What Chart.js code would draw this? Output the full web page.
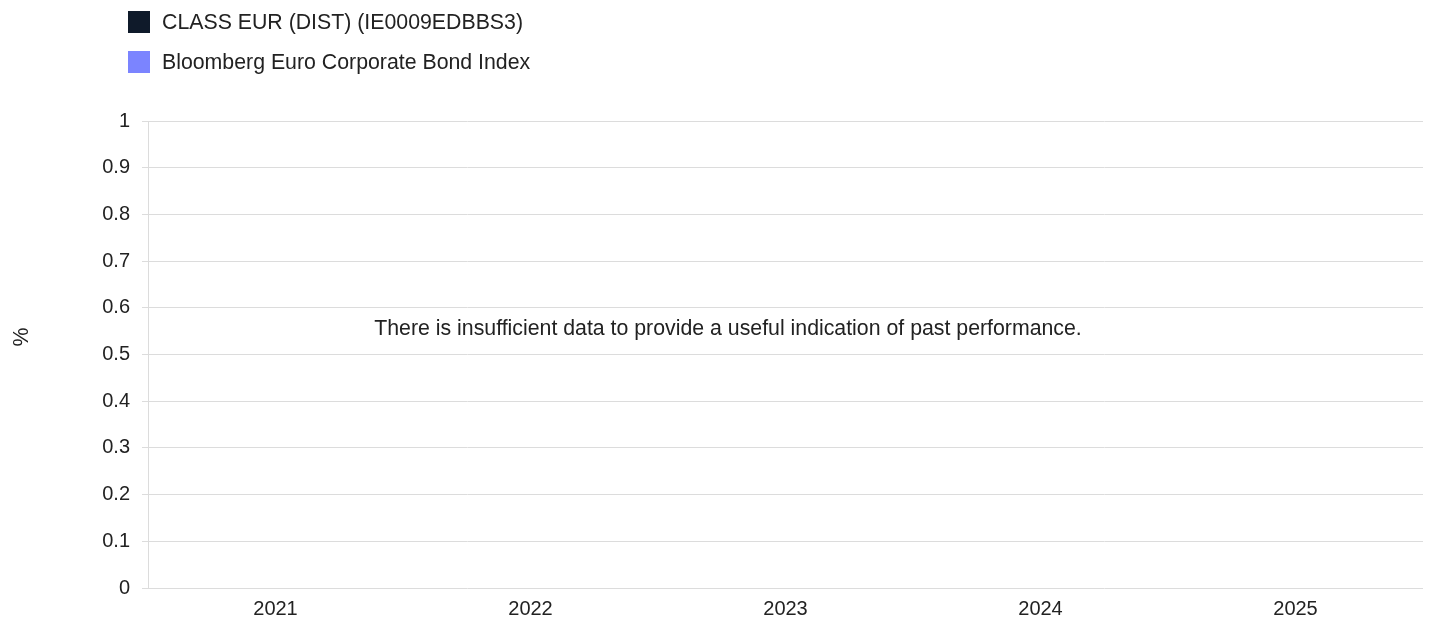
<!DOCTYPE html>
<html>
<head>
<meta charset="utf-8">
<script src="https://cdn.jsdelivr.net/npm/chart.js@4"></script>
<style>
  html, body { margin: 0; padding: 0; background: #fff; }
  #wrap { position: relative; width: 1431px; height: 625px; }
  #legend { position: absolute; left: 128px; top: 11px; font: 21.3px "Liberation Sans", Arial, sans-serif; color: #222; }
  #legend div { display: flex; align-items: center; height: 22px; margin-bottom: 18px; }
  #legend span.box { display: inline-block; width: 22px; height: 22px; margin-right: 12px; }
</style>
</head>
<body>
<div id="wrap">
  <canvas id="myChart" width="1431" height="625"></canvas>
  <div id="legend"></div>
</div>
<script>
document.addEventListener('DOMContentLoaded', function () {

  var ctx = document.getElementById('myChart').getContext('2d');

  // Années
  var years = ['2021', '2022', '2023', '2024', '2025'];
  // Pas de données disponibles
  var fundValues = [null, null, null, null, null];
  var indexValues = [null, null, null, null, null];
  var yTicks = [0, 0.1, 0.2, 0.3, 0.4, 0.5, 0.6, 0.7, 0.8, 0.9, 1];

  var fontFamily = '"Liberation Sans", Arial, sans-serif';
  var message = 'There is insufficient data to provide a useful indication of past performance.';

  // Texte au centre + titre de l'axe
  var textPlugin = {
    id: 'textPlugin',
    afterDraw: function (chart) {
      var c = chart.ctx;
      c.save();
      c.fillStyle = '#222';
      c.font = '21.3px ' + fontFamily;
      c.textAlign = 'center';
      c.textBaseline = 'middle';
      c.fillText(message, 728, 329);
      c.translate(22, 337);
      c.rotate(-Math.PI / 2);
      c.fillText('%', 0, 0);
      c.restore();
    }
  };

  var config = {
    type: 'bar',
    data: {
      labels: years,
      datasets: [{
        label: 'CLASS EUR (DIST) (IE0009EDBBS3)',
        data: fundValues,
        backgroundColor: '#0f1a2a'
      }, {
        label: 'Bloomberg Euro Corporate Bond Index',
        data: indexValues,
        backgroundColor: '#7b84ff'
      }]
    },
    options: {
      responsive: false,
      animation: false,
      layout: { padding: { top: 121, right: 8, bottom: 0, left: 0 } },
      plugins: {
        legend: { display: false },
        tooltip: { enabled: false }
      },
      scales: {
        x: {
          grid: { display: false },
          border: { display: false },
          afterFit: function (scale) { scale.height = 37; },
          ticks: { color: '#222', font: { size: 20, family: fontFamily }, padding: 1 }
        },
        y: {
          min: 0,
          max: 1,
          afterBuildTicks: function (scale) {
            scale.ticks = yTicks.map(function (v) { return { value: v }; });
          },
          afterFit: function (scale) { scale.width = 148; scale.paddingTop = 0; },
          grid: { color: '#dcdcdc', tickLength: 6 },
          border: { color: '#dcdcdc' },
          ticks: {
            color: '#222',
            font: { size: 20, family: fontFamily },
            padding: 12,
            callback: function (value) { return String(value); }
          }
        }
      }
    },
    plugins: [textPlugin]
  };

  var myChart = new Chart(ctx, config);

  // Légende HTML
  var legend = document.getElementById('legend');
  myChart.data.datasets.forEach(function (ds) {
    var row = document.createElement('div');
    row.innerHTML = '<span class="box" style="background:' + ds.backgroundColor + '"></span>' + ds.label;
    legend.appendChild(row);
  });
});
</script>
</body>
</html>
